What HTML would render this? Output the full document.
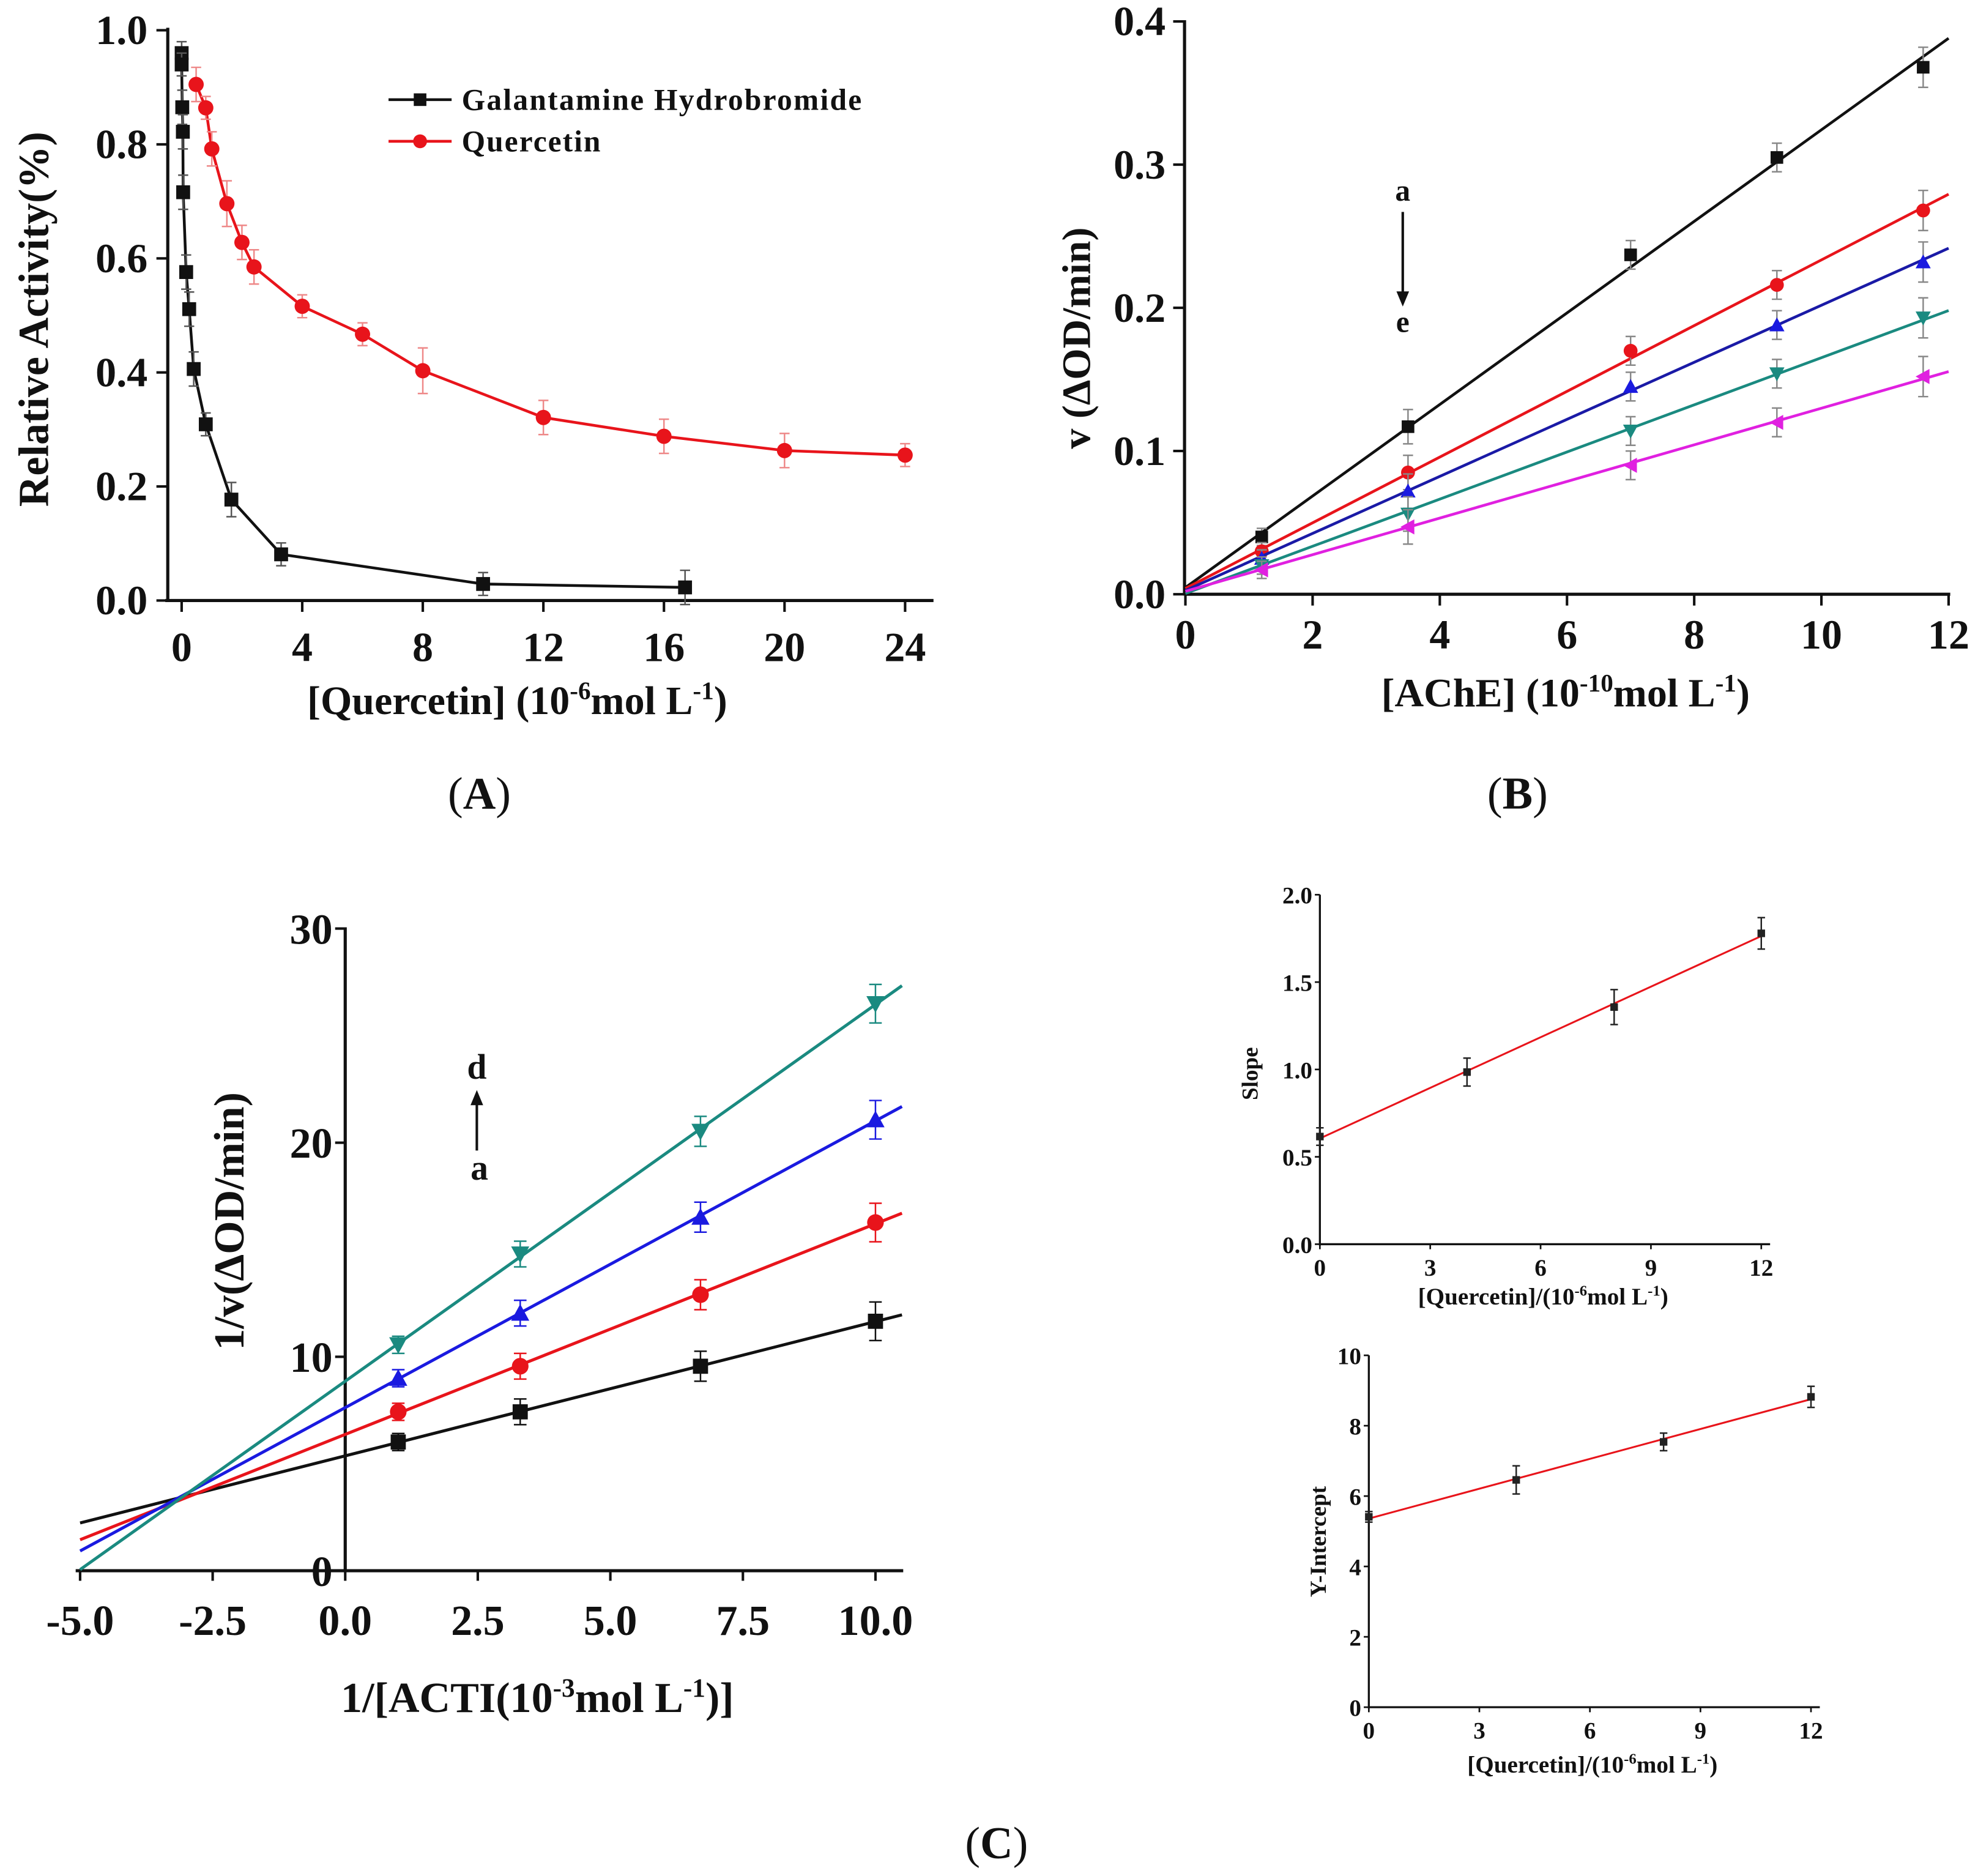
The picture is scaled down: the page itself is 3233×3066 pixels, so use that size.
<!DOCTYPE html>
<html><head><meta charset="utf-8"><style>
html,body{margin:0;padding:0;background:#fff;}
svg{display:block;font-family:"Liberation Serif",serif;}
</style></head><body>
<svg id="fig" xmlns="http://www.w3.org/2000/svg" width="3233" height="3066" viewBox="0 0 1568 1487" preserveAspectRatio="none">
<rect x="0" y="0" width="1568" height="1487" fill="#fff"/>
</svg>
<script>
// ---------- Panel A data ----------
const galX=[0,0,0.02,0.04,0.05,0.15,0.25,0.4,0.8,1.65,3.3,10,16.7];
const galY=[0.96,0.94,0.865,0.822,0.716,0.576,0.511,0.406,0.309,0.177,0.081,0.029,0.023];
const galE=[0.02,0.02,0.03,0.03,0.03,0.03,0.03,0.03,0.02,0.03,0.02,0.02,0.03];
const qX=[0.48,0.8,1.0,1.5,2.0,2.4,4,6,8,12,16,20,24];
const qY=[0.905,0.864,0.792,0.696,0.628,0.585,0.516,0.467,0.403,0.321,0.288,0.263,0.255];
const qE=[0.03,0.02,0.03,0.04,0.03,0.03,0.02,0.02,0.04,0.03,0.03,0.03,0.02];
const aXTicks=[0,4,8,12,16,20,24];
const aYTicks=["0.0","0.2","0.4","0.6","0.8","1.0"];
// ---------- Panel B data ----------
const bX=[1.2,3.5,7.0,9.3,11.6];
const bA=[0.040,0.117,0.237,0.305,0.368];
const bB=[0.030,0.085,0.170,0.216,0.268];
const bC=[0.025,0.072,0.145,0.188,0.232];
const bD=[0.020,0.056,0.114,0.154,0.193];
const bE=[0.017,0.047,0.090,0.120,0.152];
const bErr=[0.006,0.012,0.01,0.01,0.014];
const bXTicks=[0,2,4,6,8,10,12];
const bYTicks=["0.0","0.1","0.2","0.3","0.4"];
// ---------- Panel C data ----------
const cX=[1,3.3,6.7,10];
const cA=[6.02,7.43,9.56,11.66];
const cB=[7.43,9.56,12.9,16.27];
const cC=[9.0,12.04,16.52,21.07];
const cD=[10.56,14.8,20.53,26.49];
const cErr=[0.4,0.6,0.7,0.9];
const cXTicks=["-5.0","-2.5","0.0","2.5","5.0","7.5","10.0"];
const cYTicks=[0,10,20,30];
// ---------- Slope / intercept data ----------
const sX=[0,4,8,12];
const sY=[0.616,0.985,1.357,1.779];
const sErr=[0.05,0.08,0.1,0.09];
const sXTicks=[0,3,6,9,12];
const sYTicks=["0.0","0.5","1.0","1.5","2.0"];
const iX=[0,4,8,12];
const iY=[5.41,6.46,7.54,8.82];
const iErr=[0.15,0.4,0.25,0.3];
const iXTicks=[0,3,6,9,12];
const iYTicks=[0,2,4,6,8,10];

const NS="http://www.w3.org/2000/svg";
const svg=document.getElementById('fig');
function el(tag,parent){const e=document.createElementNS(NS,tag);parent.appendChild(e);return e;}
function line(p,x1,y1,x2,y2,c,w){const l=el('line',p);l.setAttribute('x1',x1);l.setAttribute('y1',y1);l.setAttribute('x2',x2);l.setAttribute('y2',y2);l.setAttribute('stroke',c);l.setAttribute('stroke-width',w);return l;}
function txt(p,x,y,s,size,anchor,weight){const t=el('text',p);t.setAttribute('x',x);t.setAttribute('y',y);t.setAttribute('font-size',size);t.setAttribute('text-anchor',anchor||'middle');t.setAttribute('font-weight',weight||'bold');t.setAttribute('fill','#111');t.textContent=s;return t;}
function marker(p,shape,x,y,r,c){let m;
 if(shape==='sq'){m=el('rect',p);m.setAttribute('x',x-r);m.setAttribute('y',y-r);m.setAttribute('width',2*r);m.setAttribute('height',2*r);}
 else if(shape==='ci'){m=el('circle',p);m.setAttribute('cx',x);m.setAttribute('cy',y);m.setAttribute('r',r*1.1);}
 else{m=el('polygon',p);let pts;
  if(shape==='up')pts=[[x,y-r*1.2],[x-r*1.2,y+r],[x+r*1.2,y+r]];
  else if(shape==='dn')pts=[[x,y+r*1.2],[x-r*1.2,y-r],[x+r*1.2,y-r]];
  else pts=[[x-r*1.2,y],[x+r,y-r*1.2],[x+r,y+r*1.2]];
  m.setAttribute('points',pts.map(q=>q.join(',')).join(' '));}
 m.setAttribute('fill',c);return m;}
function errbar(p,x,y1,y2,c,w){line(p,x,y1,x,y2,c,1.2);line(p,x-w,y1,x+w,y1,c,1.2);line(p,x-w,y2,x+w,y2,c,1.2);}
function fit(xs,ys){const n=xs.length;const mx=xs.reduce((a,b)=>a+b)/n,my=ys.reduce((a,b)=>a+b)/n;let sxy=0,sxx=0;for(let i=0;i<n;i++){sxy+=(xs[i]-mx)*(ys[i]-my);sxx+=(xs[i]-mx)**2;}const m=sxy/sxx;return [m,my-m*mx];}
function poly(p,pts,c,w){const pl=el('polyline',p);pl.setAttribute('points',pts.map(q=>q.join(',')).join(' '));pl.setAttribute('fill','none');pl.setAttribute('stroke',c);pl.setAttribute('stroke-width',w);return pl;}

// ================= PANEL A =================
(function(){
 const g=el('g',svg);
 
 
 const x0=144,ux=(717.5-144)/24,y0=476,uy=(476-24)/1;
 const sx=v=>x0+v*ux, sy=v=>y0-v*uy;
 const ax=el('g',g);
 
 
 line(ax,131,476,740,476,'#111',2.5);
 line(ax,133,476,133,22,'#111',2.5);
 aXTicks.forEach(v=>{line(ax,sx(v),476,sx(v),485,'#111',2);const t=txt(ax,sx(v),524,String(v),33);
  
  });
 aYTicks.forEach(s=>{const v=parseFloat(s);line(ax,124,sy(v),133,sy(v),'#111',2);const t=txt(ax,117,sy(v)+11,s,33,'end');
  
  });
 const yl=txt(g,0,0,'Relative Activity(%)',34);
 yl.setAttribute('transform','translate(38,253) rotate(-90)');
 
 
 const xl=txt(g,410,566,'',32);
 xl.innerHTML='[Quercetin] (10<tspan dy="-12" font-size="20">-6</tspan><tspan dy="12">mol L</tspan><tspan dy="-12" font-size="20">-1</tspan><tspan dy="12">)</tspan>';
 
 
 const gs=el('g',g);
 
 
 poly(gs,galX.map((x,i)=>[sx(x),sy(galY[i])]),'#111',2.2);
 galX.forEach((x,i)=>{errbar(gs,sx(x),sy(galY[i]+galE[i]),sy(galY[i]-galE[i]),'#555',4);const m=marker(gs,'sq',sx(x),sy(galY[i]),5.5,'#111');
  
  });
 const qs=el('g',g);
 
 
 poly(qs,qX.map((x,i)=>[sx(x),sy(qY[i])]),'#e8141b',2.2);
 qX.forEach((x,i)=>{errbar(qs,sx(x),sy(qY[i]+qE[i]),sy(qY[i]-qE[i]),'#e88',4);const m=marker(qs,'ci',sx(x),sy(qY[i]),5.5,'#e8141b');
  
  });
 const lg=el('g',g);
 
 
 line(lg,308,79,358,79,'#111',2.2);marker(lg,'sq',333,79,5,'#111');
 const t1=txt(lg,366,87,'Galantamine Hydrobromide',24,'start');t1.setAttribute('textLength','317');
 
 
 line(lg,308,112,358,112,'#e8141b',2.2);marker(lg,'ci',333,112,5,'#e8141b');
 const t2=txt(lg,366,120,'Quercetin',24,'start');t2.setAttribute('textLength','110');
 
 
 const lab=txt(g,380,641,'',36,'middle','normal');
 lab.innerHTML='(<tspan font-weight="bold">A</tspan>)';
 
 
})();

// ================= PANEL B =================
(function(){
 const g=el('g',svg);
 
 
 const x0=939.7,ux=(1544.7-939.7)/12,y0=471,uy=(471-17)/0.4;
 const sx=v=>x0+v*ux, sy=v=>y0-v*uy;
 const ax=el('g',g);
 
 
 line(ax,939,471,1546,471,'#111',2.5);
 line(ax,939,472,939,16,'#111',2.5);
 bXTicks.forEach(v=>{line(ax,sx(v),471,sx(v),480,'#111',2);const t=txt(ax,sx(v),514,String(v),33);
  
  });
 bYTicks.forEach(s=>{const v=parseFloat(s);line(ax,930,sy(v),939,sy(v),'#111',2);const t=txt(ax,924,sy(v)+11,s,33,'end');
  
  });
 const yl=txt(g,0,0,'v (ΔOD/min)',32);
 yl.setAttribute('transform','translate(864,268) rotate(-90)');
 
 
 const xl=txt(g,1241,560,'',32);
 xl.innerHTML='[AChE] (10<tspan dy="-12" font-size="20">-10</tspan><tspan dy="12">mol L</tspan><tspan dy="-12" font-size="20">-1</tspan><tspan dy="12">)</tspan>';
 
 
 const series=[[bA,'#111','sq','a'],[bB,'#e8141b','ci','b'],[bC,'#1a1aa6','up','c'],[bD,'#1a8a80','dn','d'],[bE,'#e020e0','lt','e']];
 const mcol={a:'#111',b:'#e8141b',c:'#1a1ae0',d:'#1a8a80',e:'#e020e0'};
 series.forEach(([ys,c,sh,nm])=>{
  const s=el('g',g);
  
  
  const [m,b]=fit([0].concat(bX),[0.003].concat(ys));
  line(s,sx(0),sy(b),sx(12),sy(b+12*m),c,2.2);
  bX.forEach((x,i)=>{errbar(s,sx(x),sy(ys[i]+bErr[i]),sy(ys[i]-bErr[i]),'#888',4);const mk=marker(s,sh,sx(x),sy(ys[i]),5,mcol[nm]);
   
   });
 });
 const an=el('g',g);
 
 
 txt(an,1112,159,'a',24);
 line(an,1112,168,1112,236,'#111',2);
 const ah=el('polygon',an);ah.setAttribute('points','1107,231 1117,231 1112,243');ah.setAttribute('fill','#111');
 txt(an,1112,263,'e',24);
 const lab=txt(g,1203,641,'',36,'middle','normal');
 lab.innerHTML='(<tspan font-weight="bold">B</tspan>)';
 
 
})();

// ================= PANEL C =================
(function(){
 const g=el('g',svg);
 
 
 const ux=(694-63.5)/15,x0=63.5+5*ux,y0=1245.2,uy=(1245.2-736)/30;
 const sx=v=>x0+v*ux, sy=v=>y0-v*uy;
 const ax=el('g',g);
 
 
 line(ax,60,1245,716,1245,'#111',2.5);
 line(ax,x0,1246,x0,735,'#111',2.5);
 cXTicks.forEach(s=>{const v=parseFloat(s);line(ax,sx(v),1245,sx(v),1253,'#111',2);const t=txt(ax,sx(v),1296,s,34);
  
  });
 cYTicks.forEach(v=>{line(ax,x0-8,sy(v),x0,sy(v),'#111',2);const t=txt(ax,x0-10,sy(v)+12,String(v),34,'end');
  
  });
 const yl=txt(g,0,0,'1/v(ΔOD/min)',34);
 yl.setAttribute('transform','translate(193,968) rotate(-90)');
 
 
 const xl=txt(g,426,1357,'',34);
 xl.innerHTML='1/[ACTI(10<tspan dy="-12" font-size="21">-3</tspan><tspan dy="12">mol L</tspan><tspan dy="-12" font-size="21">-1</tspan><tspan dy="12">)]</tspan>';
 
 
 const series=[[cA,'#111','sq','a'],[cB,'#e8141b','ci','b'],[cC,'#1a1ae0','up','c'],[cD,'#1a8a80','dn','d']];
 series.forEach(([ys,c,sh,nm])=>{
  const s=el('g',g);
  
  
  const [m,b]=fit(cX,ys);
  line(s,sx(-5),sy(b-5*m),sx(10.5),sy(b+10.5*m),c,2.4);
  cX.forEach((x,i)=>{errbar(s,sx(x),sy(ys[i]+cErr[i]),sy(ys[i]-cErr[i]),c,5);const mk=marker(s,sh,sx(x),sy(ys[i]),6,c);
   
   });
 });
 const an=el('g',g);
 
 
 txt(an,378,855,'d',28);
 line(an,378,875,378,912,'#111',2);
 const ah=el('polygon',an);ah.setAttribute('points','373,876 383,876 378,864');ah.setAttribute('fill','#111');
 txt(an,380,935,'a',28);
 const lab=txt(g,790,1473,'',36,'middle','normal');
 lab.innerHTML='(<tspan font-weight="bold">C</tspan>)';
 
 
})();

// ================= Insets =================
function small(name,xs,ys,es,xT,yT,x0,x1,y0,y1,ymax,ylabel,ylx,yly,xly){
 const g=el('g',svg);
 
 
 const ux=(x1-x0)/12, uy=(y0-y1)/ymax;
 const sx=v=>x0+v*ux, sy=v=>y0-v*uy;
 line(g,x0,y0,x1+7,y0,'#111',1.6);
 line(g,x0,y0+1,x0,y1,'#111',1.6);
 xT.forEach(v=>{line(g,sx(v),y0,sx(v),y0+4,'#111',1.3);const t=txt(g,sx(v),y0+25,String(v),19);
  
  });
 yT.forEach(s=>{const v=parseFloat(s);line(g,x0-4,sy(v),x0,sy(v),'#111',1.3);const t=txt(g,x0-6,sy(v)+7,String(s),19,'end');
  
  });
 const yl=txt(g,0,0,ylabel,18);
 yl.setAttribute('transform','translate('+ylx+','+yly+') rotate(-90)');
 
 
 const xl=txt(g,(x0+x1)/2+2,xly,'',19);
 xl.innerHTML='[Quercetin]/(10<tspan dy="-7" font-size="12">-6</tspan><tspan dy="7">mol L</tspan><tspan dy="-7" font-size="12">-1</tspan><tspan dy="7">)</tspan>';
 
 
 const [m,b]=fit(xs,ys);
 const fl=line(g,sx(0),sy(b),sx(12),sy(b+12*m),'#e8141b',1.5);
 
 
 xs.forEach((x,i)=>{errbar(g,sx(x),sy(ys[i]+es[i]),sy(ys[i]-es[i]),'#222',3);const mk=marker(g,'sq',sx(x),sy(ys[i]),3,'#222');
  
  });
}
small('slope-chart',sX,sY,sErr,sXTicks,sYTicks,1046.3,1396.2,986.2,709.2,2.0,'Slope',997,851,1034);
small('intercept-chart',iX,iY,iErr,iXTicks,iYTicks,1085.1,1435.6,1353.2,1074.3,10,'Y-Intercept',1051,1222,1405);
</script>
</body></html>
